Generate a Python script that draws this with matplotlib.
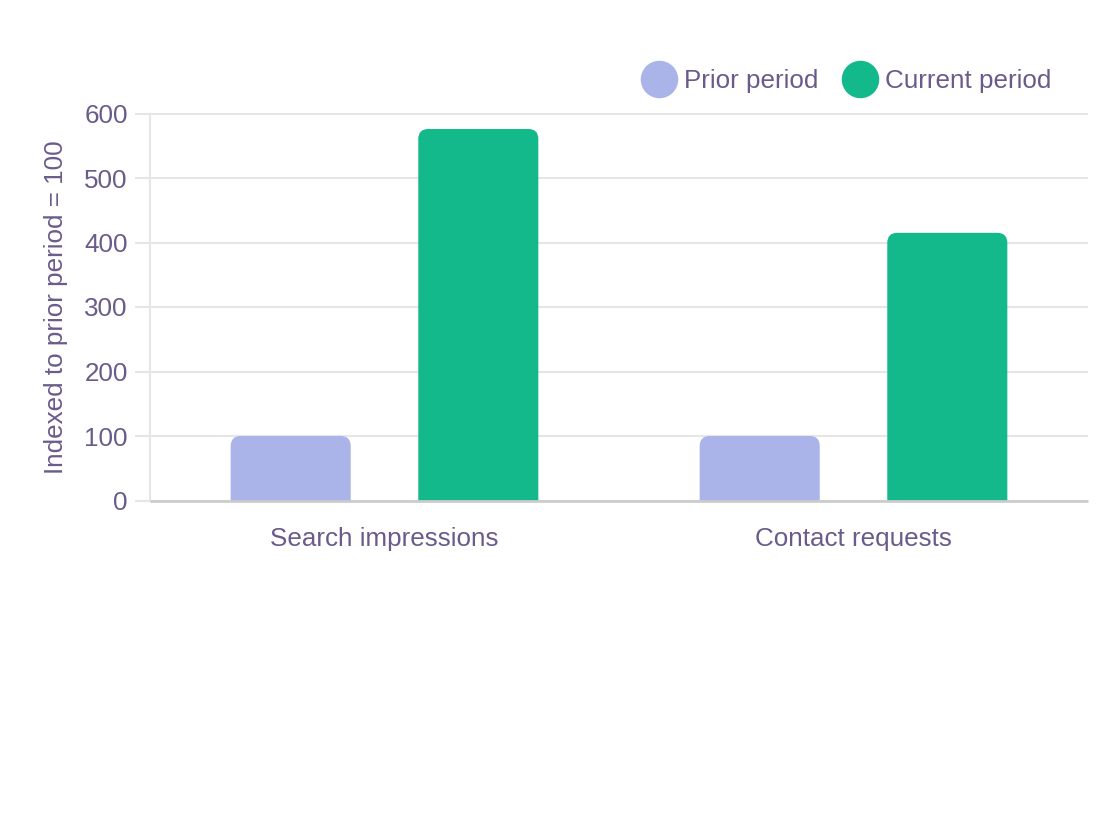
import matplotlib
matplotlib.use('Agg')
import matplotlib.pyplot as plt
import numpy as np
from matplotlib.patches import FancyBboxPatch
from matplotlib.lines import Line2D

categories = ['Search impressions', 'Contact requests']
prior = [100, 100]
current = [576, 415]
series_names = ['Prior period', 'Current period']
yticks = [0, 100, 200, 300, 400, 500, 600]

col_prior = '#aab4e8'
col_current = '#13b98a'
txt = '#6a5b8a'
grid = '#e6e6e6'
fs = 18.7

plt.rcParams['font.family'] = ['Liberation Sans', 'DejaVu Sans']

fig = plt.figure(figsize=(11.2, 8.4), dpi=100)
ax = fig.add_axes([150/1120, 1 - 500.5/840, 938/1120, 387/840])

x = np.arange(len(categories))
w = 0.256
b1 = ax.bar(x - 0.2, prior, w, color=col_prior)
b2 = ax.bar(x + 0.2, current, w, color=col_current)

ax.set_xlim(-0.5, 1.5)
ax.set_ylim(0, 600)

# swap plain bars for ones with rounded tops (bottom part clipped by axes)
rx = 10 * 2 / 938
ry = 10 * 600 / 387
for bars in (b1, b2):
    for p in bars:
        p.set_visible(False)
        bx, by, bw, bh = p.get_x(), p.get_y(), p.get_width(), p.get_height()
        ax.add_patch(FancyBboxPatch((bx, by - 3 * ry), bw, bh + 3 * ry,
                                    boxstyle='round,pad=0,rounding_size=%f' % rx,
                                    mutation_aspect=ry / rx, fc=p.get_facecolor(),
                                    ec='none', zorder=2))

ax.set_yticks(yticks)
ax.set_xticks(x)
ax.set_xticklabels(categories)
ax.yaxis.grid(True, color=grid, linewidth=1.5)
for l in ax.get_ygridlines():
    l.set_clip_on(False)
    l.set_solid_capstyle('butt')
ax.set_axisbelow(True)
for s in ['top', 'right']:
    ax.spines[s].set_visible(False)
ax.spines['left'].set_color(grid)
ax.spines['left'].set_linewidth(1.5)
ax.spines['bottom'].set_color('#cccccc')
ax.spines['bottom'].set_linewidth(2)
ax.spines['bottom'].set_capstyle('butt')
ax.spines['bottom'].set_zorder(3)
ax.tick_params(axis='y', length=11, width=1.5, color=grid, pad=5,
               labelsize=fs, labelcolor=txt)
ax.tick_params(axis='x', length=0, pad=19, labelsize=fs, labelcolor=txt)
ax.set_ylabel('Indexed to prior period = 100', fontsize=fs, color=txt, labelpad=12)

handles = [Line2D([], [], marker='o', linestyle='none', markersize=27,
                  markerfacecolor=c, markeredgecolor='none')
           for c in (col_prior, col_current)]
fig.legend(handles, series_names, loc='center right', bbox_to_anchor=(1064/1120, 1 - 81/840),
           ncol=2, frameon=False, fontsize=fs, labelcolor=txt, handletextpad=0.25,
           columnspacing=0.9, borderpad=0, handlelength=1.4)

fig.savefig('out.png', dpi=100)
